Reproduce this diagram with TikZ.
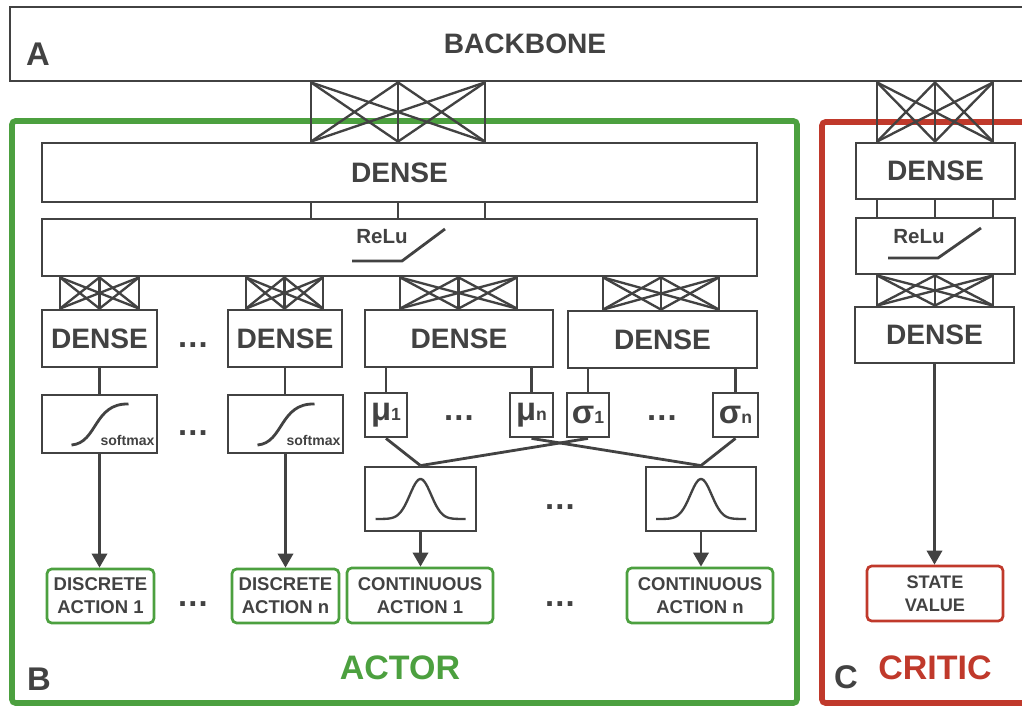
\documentclass[tikz,border=0pt]{standalone}
\usepackage{fontspec}
\setmainfont{Liberation Sans}
\usetikzlibrary{arrows.meta}
\definecolor{acInk}{HTML}{424242}
\definecolor{acGreen}{HTML}{4CA03F}
\definecolor{acRed}{HTML}{C0392B}
\newcommand{\dotsx}{.\kern1pt.\kern1pt.}
\newcommand{\gsub}[2]{{\fontsize{28}{28}\selectfont #1}{\fontsize{15}{15}\selectfont #2}}
% fully connected block between two layers: left x, right x, upper node, lower node
\newcommand{\fullconn}[4]{%
  \foreach \ta in {0,1,2} {\foreach \tb in {0,1,2} {%
    \draw[xconn] ({#1+\ta*(#2-#1)/2},0 |- #3.south) -- ({#1+\tb*(#2-#1)/2},0 |- #4.north);}}}

\begin{document}
\begin{tikzpicture}[x=0.03cm, y=-0.03cm,
  wh/.style 2 args={minimum width=#1*0.03cm, minimum height=#2*0.03cm},
  box/.style={draw=acInk, line width=2.4pt, inner sep=0pt, text=acInk, font=\bfseries\fontsize{24}{24}\selectfont},
  frame/.style={line width=4.8pt, rounded corners=3pt, inner sep=0pt},
  action/.style={draw=acGreen, line width=2.3pt, rounded corners=4pt, inner sep=0pt, align=center, text=acInk, font=\bfseries\fontsize{15.8}{19.5}\selectfont},
  value/.style={action, draw=acRed, font=\bfseries\fontsize{15.5}{20}\selectfont},
  wire/.style={draw=acInk, line width=2.4pt},
  xconn/.style={draw=acInk, line width=2pt},
  arrow/.style={wire, -{Triangle[length=12pt,width=13pt]}},
  relu/.style={inner sep=0pt, text=acInk, font=\bfseries\fontsize{17.5}{17.5}\selectfont},
  soft/.style={inner sep=0pt, text=acInk, font=\bfseries\fontsize{12}{12}\selectfont},
  dots/.style={inner sep=0pt, text=acInk, font=\bfseries\fontsize{28}{28}\selectfont},
  tag/.style={inner sep=0pt, text=acInk, font=\bfseries\fontsize{28}{28}\selectfont},
  title/.style={inner sep=0pt, font=\bfseries\fontsize{29}{29}\selectfont}]
  \useasboundingbox (0,0) rectangle (1022,706);
  \node[box, wh={1030}{74}] (backbone) at (525,44) {BACKBONE};
  \node[frame, draw=acGreen, wh={785}{582}] (actor) at (404.5,412) {};
  \node[frame, draw=acRed, wh={218}{581}] (critic) at (931,412.5) {};
  \node[tag] (la) at (38,54) {A};
  \node[tag] (lb) at (39,679) {B};
  \node[tag] (lc) at (846,677) {C};
  \node[title, text=acGreen] (lact) at (400,668) {ACTOR};
  \node[title, text=acRed] (lcrit) at (935,668) {CRITIC};

  % actor trunk
  \node[box, wh={715}{59}] (d0) at (399.5,172.5) {DENSE};
  \node[box, wh={715}{57}] (r0) at (399.5,247.5) {};
  \fullconn{311}{485}{backbone}{d0}
  \foreach \x in {311,398,485} \draw[wire] (\x,0 |- d0.south) -- (\x,0 |- r0.north);
  \node[relu] (rl0) at (382,237) {ReLu};
  \draw[wire] (rl0.center) ++(-30,24) -- ++(50,0) -- ++(43,-32);

  % actor heads
  \node[box, wh={115}{57}] (dd1) at (99.5,338.5) {DENSE};
  \node[box, wh={114}{57}] (dd2) at (285,338.5) {DENSE};
  \node[box, wh={188}{57}] (dc1) at (459,338.5) {DENSE};
  \node[box, wh={189}{57}] (dc2) at (662.5,339.5) {DENSE};
  \fullconn{60}{139}{r0}{dd1}
  \fullconn{246}{323}{r0}{dd2}
  \fullconn{400}{517}{r0}{dc1}
  \fullconn{603}{719}{r0}{dc2}
  \node[dots] (dt1) at (193,345) {\dotsx};

  % discrete branch
  \node[box, wh={115}{58}] (sm1) at (99.5,424) {};
  \node[box, wh={115}{58}] (sm2) at (285.5,424) {};
  \draw[wire] (dd1.south) -- (dd1.south |- sm1.north);
  \draw[wire] (dd2.south) -- (dd2.south |- sm2.north);
  \foreach \s in {sm1,sm2} {
    \begin{scope}[shift={(\s.center)}]
      \draw[wire] (-28,21) .. controls (-2,19) and (-6,-21) .. (29,-20);
      \node[soft] (\s-txt) at (28,16) {softmax};
    \end{scope}}
  \node[dots] (dt2) at (193,433) {\dotsx};
  \node[action, wh={107}{54}] (da1) at (100.5,596) {DISCRETE\\ACTION 1};
  \node[action, wh={107}{54}] (da2) at (285.5,596) {DISCRETE\\ACTION n};
  \draw[arrow] (sm1.south) -- (sm1.south |- da1.north);
  \draw[arrow] (sm2.south) -- (sm2.south |- da2.north);
  \node[dots] (dt3) at (193,604) {\dotsx};

  % continuous branch
  \node[box, wh={42}{44}] (mu1) at (386,415) {\gsub{μ}{1}};
  \node[box, wh={43}{44}] (mun) at (531.5,415) {\gsub{μ}{n}};
  \node[box, wh={42}{44}] (sg1) at (588,415) {\gsub{σ}{1}};
  \node[box, wh={45}{44}] (sgn) at (735.5,415) {\gsub{σ}{n}};
  \draw[wire] (dc1.south -| mu1.north) -- (mu1.north);
  \draw[wire] (dc1.south -| mun.north) -- (mun.north);
  \draw[wire] (dc2.south -| sg1.north) -- (sg1.north);
  \draw[wire] (dc2.south -| sgn.north) -- (sgn.north);
  \node[dots] (dt4) at (459,418) {\dotsx};
  \node[dots] (dt5) at (662,418) {\dotsx};
  \node[box, wh={111}{64}] (g1) at (420.5,499) {};
  \node[box, wh={110}{64}] (gn) at (701,499) {};
  \draw[wire] (mu1.south) -- (g1.north);
  \draw[wire] (sg1.south) -- (g1.north);
  \draw[wire] (mun.south) -- (gn.north);
  \draw[wire] (sgn.south) -- (gn.north);
  \foreach \g in {g1,gn}
    \draw[wire, line width=2pt, shift={(\g.center)}] plot[domain=-45:45, samples=60, smooth] (\x, {20-40*exp(-(\x/15)^2)});
  \node[dots] (dt6) at (560,507) {\dotsx};
  \node[action, wh={146}{55}] (ca1) at (420,595.5) {CONTINUOUS\\ACTION 1};
  \node[action, wh={146}{55}] (ca2) at (700,595.5) {CONTINUOUS\\ACTION n};
  \draw[arrow] (g1.south) -- (g1.south |- ca1.north);
  \draw[arrow] (gn.south) -- (gn.south |- ca2.north);
  \node[dots] (dt7) at (560,604) {\dotsx};

  % critic
  \node[box, wh={159}{56}] (cd0) at (935.5,171) {DENSE};
  \node[box, wh={159}{56}] (cr0) at (935.5,246) {};
  \node[box, wh={159}{56}] (cd1) at (934.5,335) {DENSE};
  \fullconn{877}{993}{backbone}{cd0}
  \foreach \x in {877,935,993} \draw[wire] (\x,0 |- cd0.south) -- (\x,0 |- cr0.north);
  \node[relu] (rl1) at (919,237) {ReLu};
  \draw[wire] (rl1.center) ++(-31,21) -- ++(50,0) -- ++(43,-30);
  \fullconn{877}{993}{cr0}{cd1}
  \node[value, wh={136}{55}] (sv) at (935,593.5) {STATE\\VALUE};
  \draw[arrow] (cd1.south) -- (cd1.south |- sv.north);
\end{tikzpicture}
\end{document}
